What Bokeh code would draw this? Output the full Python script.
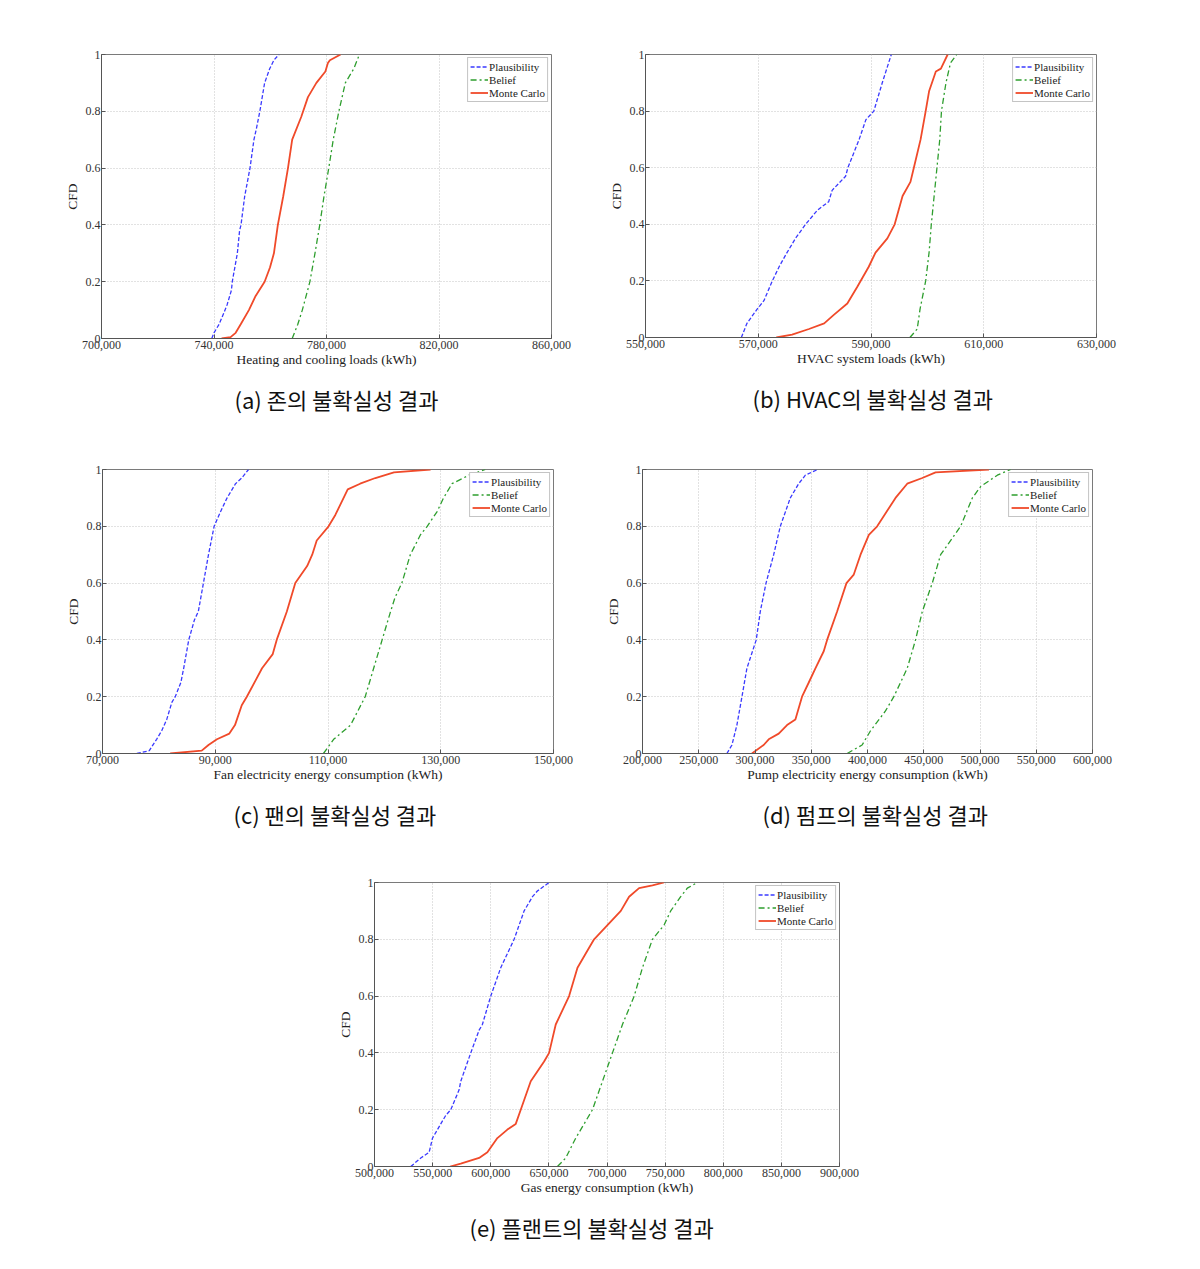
from bokeh.plotting import figure
from bokeh.layouts import column, row
from bokeh.models import Range1d, FixedTicker, NumeralTickFormatter, Title
from bokeh.embed import file_html
from bokeh.resources import INLINE

# ---------------- data ----------------
# (a) Heating and cooling loads
a_pl_x = [739200, 740000, 741800, 743500, 744700, 746200, 746500, 748300, 749100, 749600, 750900, 752800, 754200, 755100, 756300, 758000, 759800, 761300, 763100]
a_pl_y = [0, 0.02, 0.05, 0.09, 0.12, 0.17, 0.2, 0.3, 0.38, 0.4, 0.5, 0.6, 0.7, 0.74, 0.8, 0.9, 0.95, 0.98, 1]
a_be_x = [767800, 769800, 771400, 774100, 775900, 777600, 779100, 780800, 782400, 784400, 786700, 789700, 791700]
a_be_y = [0, 0.05, 0.1, 0.2, 0.3, 0.4, 0.5, 0.6, 0.7, 0.8, 0.9, 0.95, 1]
a_mc_x = [742700, 745900, 747700, 749500, 752400, 754800, 758000, 759900, 761300, 762700, 764600, 766300, 767800, 771000, 773400, 776400, 779600, 780500, 781200, 785000]
a_mc_y = [0, 0.005, 0.02, 0.05, 0.1, 0.15, 0.2, 0.25, 0.3, 0.4, 0.5, 0.6, 0.7, 0.78, 0.85, 0.9, 0.94, 0.97, 0.98, 1]

# (b) HVAC system loads
b_pl_x = [567000, 568000, 569800, 571000, 572500, 573700, 575100, 576600, 578400, 580500, 582500, 583100, 585500, 585900, 587900, 589100, 590500, 592000, 593600]
b_pl_y = [0, 0.05, 0.1, 0.13, 0.2, 0.25, 0.3, 0.35, 0.4, 0.45, 0.48, 0.52, 0.57, 0.6, 0.7, 0.77, 0.8, 0.9, 1]
b_be_x = [596900, 598200, 598700, 599700, 600300, 600700, 601200, 601700, 602200, 602500, 603300, 604100, 605200]
b_be_y = [0, 0.03, 0.1, 0.2, 0.3, 0.4, 0.5, 0.6, 0.7, 0.8, 0.9, 0.97, 1]
b_mc_x = [573200, 576000, 579000, 581700, 583400, 585800, 587600, 589600, 590800, 592900, 594200, 595600, 597000, 597600, 598800, 599700, 600300, 601500, 602400, 603600]
b_mc_y = [0, 0.01, 0.03, 0.05, 0.08, 0.12, 0.18, 0.25, 0.3, 0.35, 0.4, 0.5, 0.55, 0.6, 0.7, 0.8, 0.87, 0.94, 0.95, 1]

# (c) Fan electricity energy consumption
c_pl_x = [76100, 78300, 79600, 80500, 81400, 82300, 82900, 83900, 84400, 85300, 86300, 87000, 87900, 88800, 89800, 90900, 92100, 93600, 94700, 95900]
c_pl_y = [0, 0.01, 0.05, 0.08, 0.12, 0.18, 0.2, 0.25, 0.3, 0.4, 0.47, 0.5, 0.6, 0.7, 0.8, 0.85, 0.9, 0.95, 0.97, 1]
c_be_x = [109200, 111000, 114000, 116600, 118100, 119600, 121100, 121900, 123100, 124600, 126400, 127600, 129300, 130500, 132000, 135000, 137900]
c_be_y = [0, 0.05, 0.1, 0.2, 0.3, 0.4, 0.5, 0.55, 0.6, 0.7, 0.77, 0.8, 0.85, 0.9, 0.95, 0.98, 1]
c_mc_x = [82000, 87600, 88800, 90300, 92500, 93500, 94700, 95600, 98300, 100200, 100900, 102700, 104200, 106300, 107200, 108000, 110100, 111300, 113500, 115700, 118400, 121700, 128200]
c_mc_y = [0, 0.01, 0.03, 0.05, 0.07, 0.1, 0.17, 0.2, 0.3, 0.35, 0.4, 0.5, 0.6, 0.66, 0.7, 0.75, 0.8, 0.84, 0.93, 0.95, 0.97, 0.99, 1]

# (d) Pump electricity energy consumption
d_pl_x = [275000, 279500, 283900, 288400, 292800, 301100, 304700, 309800, 316600, 322500, 331400, 338800, 344800, 355800]
d_pl_y = [0, 0.03, 0.1, 0.2, 0.3, 0.4, 0.5, 0.6, 0.7, 0.8, 0.9, 0.95, 0.98, 1]
d_be_x = [381900, 395200, 402700, 416000, 423400, 435300, 442700, 448700, 457600, 465000, 482800, 493200, 500600, 515400, 527200]
d_be_y = [0, 0.03, 0.08, 0.15, 0.2, 0.3, 0.4, 0.5, 0.6, 0.7, 0.8, 0.9, 0.94, 0.98, 1]
d_mc_x = [297300, 307700, 312200, 321100, 328500, 335900, 341800, 347800, 353700, 361100, 364100, 373000, 381300, 387800, 393800, 401200, 408600, 424900, 435300, 448700, 460500, 508000]
d_mc_y = [0, 0.03, 0.05, 0.07, 0.1, 0.12, 0.2, 0.25, 0.3, 0.36, 0.4, 0.5, 0.6, 0.63, 0.7, 0.77, 0.8, 0.9, 0.95, 0.97, 0.99, 1]

# (e) Gas energy consumption
e_pl_x = [531200, 539800, 547000, 549900, 557000, 561300, 565600, 572800, 574200, 582800, 590000, 592800, 600000, 608600, 620100, 628700, 635900, 640100, 650200]
e_pl_y = [0, 0.03, 0.05, 0.1, 0.15, 0.18, 0.2, 0.27, 0.3, 0.4, 0.48, 0.5, 0.6, 0.7, 0.8, 0.9, 0.95, 0.97, 1]
e_be_x = [657400, 664500, 673100, 680300, 687500, 696100, 704700, 713300, 723400, 730500, 739100, 749100, 754800, 763400, 769100, 777700]
e_be_y = [0, 0.03, 0.1, 0.15, 0.2, 0.3, 0.4, 0.5, 0.6, 0.7, 0.8, 0.85, 0.9, 0.95, 0.98, 1]
e_mc_x = [565100, 574200, 590000, 597100, 605700, 614300, 621500, 625800, 634400, 645900, 650200, 655900, 667400, 674600, 684600, 688900, 700400, 711900, 719000, 727600, 739100, 749100]
e_mc_y = [0, 0.01, 0.03, 0.05, 0.1, 0.13, 0.15, 0.2, 0.3, 0.37, 0.4, 0.5, 0.6, 0.7, 0.77, 0.8, 0.85, 0.9, 0.95, 0.98, 0.99, 1]

x_labels = ["Heating and cooling loads (kWh)", "HVAC system loads (kWh)",
            "Fan electricity energy consumption (kWh)", "Pump electricity energy consumption (kWh)",
            "Gas energy consumption (kWh)"]
captions = ["(a) 존의 불확실성 결과", "(b) HVAC의 불확실성 결과", "(c) 팬의 불확실성 결과",
            "(d) 펌프의 불확실성 결과", "(e) 플랜트의 불확실성 결과"]
x_ticks = [[700000, 740000, 780000, 820000, 860000],
           [550000, 570000, 590000, 610000, 630000],
           [70000, 90000, 110000, 130000, 150000],
           [200000, 250000, 300000, 350000, 400000, 450000, 500000, 550000, 600000],
           [500000, 550000, 600000, 650000, 700000, 750000, 800000, 850000, 900000]]
y_ticks = [0, 0.2, 0.4, 0.6, 0.8, 1]
series_names = ["Plausibility", "Belief", "Monte Carlo"]

SERIF = "Liberation Serif"
FRAME_H = 284
BOTTOM = 90


def make_fig(series, xt, xlabel, caption, width, left, right, top, cap_offset):
    height = top + FRAME_H + BOTTOM
    p = figure(width=width, height=height, output_backend="svg", toolbar_location=None,
               x_range=Range1d(xt[0], xt[-1]), y_range=Range1d(0, 1),
               min_border_left=left, min_border_right=right, min_border_top=top,
               min_border_bottom=BOTTOM)
    p.background_fill_color = "white"
    p.outline_line_color = "#7a7a7a"
    p.outline_line_width = 1
    (plx, ply), (bex, bey), (mcx, mcy) = series
    p.line(plx, ply, line_color="#3a3aff", line_width=1.3, line_dash="4 2", legend_label=series_names[0])
    p.line(bex, bey, line_color="#2e9e2e", line_width=1.3, line_dash="6 3 2 3", legend_label=series_names[1])
    p.line(mcx, mcy, line_color="#f04a2a", line_width=1.8, legend_label=series_names[2])

    p.xaxis.ticker = FixedTicker(ticks=xt)
    p.xaxis.formatter = NumeralTickFormatter(format="0,0")
    p.yaxis.ticker = FixedTicker(ticks=y_ticks)
    p.yaxis.formatter = NumeralTickFormatter(format="0.[0]")
    p.xaxis.axis_label = xlabel
    p.yaxis.axis_label = "CFD"
    for ax in (p.xaxis[0], p.yaxis[0]):
        ax.major_tick_in = 4
        ax.major_tick_out = 0
        ax.minor_tick_line_color = None
        ax.axis_line_color = "#555555"
        ax.major_tick_line_color = "#555555"
        ax.major_label_text_font = SERIF
        ax.major_label_text_font_size = "12px"
        ax.major_label_text_color = "#333333"
        ax.major_label_standoff = 2
        ax.axis_label_text_font = SERIF
        ax.axis_label_text_font_size = "13.5px"
        ax.axis_label_text_font_style = "normal"
        ax.axis_label_text_color = "#222222"
        ax.axis_label_standoff = 0
    p.yaxis.major_label_standoff = 1
    p.yaxis.axis_label_standoff = 3

    p.grid.grid_line_color = "#c4c4c4"
    p.grid.grid_line_dash = "1 2"
    p.grid.grid_line_width = 1

    lg = p.legend[0]
    lg.location = "top_right"
    lg.margin = 3
    lg.padding = 2
    lg.spacing = 0
    lg.label_height = 13
    lg.glyph_height = 13
    lg.glyph_width = 18
    lg.label_standoff = 1
    lg.label_text_font = SERIF
    lg.label_text_font_size = "11px"
    lg.label_text_color = "#222222"
    lg.border_line_color = "#8a8a8a"
    lg.border_line_width = 1
    lg.background_fill_alpha = 1.0

    cap = Title(text=caption, align="left", text_font="Noto Sans CJK KR",
                text_font_size="22px", text_font_style="normal", text_color="#111111",
                standoff=22, offset=cap_offset)
    p.add_layout(cap, "below")
    return p


fa = make_fig([(a_pl_x, a_pl_y), (a_be_x, a_be_y), (a_mc_x, a_mc_y)], x_ticks[0], x_labels[0], captions[0],
              600, 101, 49, 54, 133)
fb = make_fig([(b_pl_x, b_pl_y), (b_be_x, b_be_y), (b_mc_x, b_mc_y)], x_ticks[1], x_labels[1], captions[1],
              600, 45, 104, 53, 107)
fc = make_fig([(c_pl_x, c_pl_y), (c_be_x, c_be_y), (c_mc_x, c_mc_y)], x_ticks[2], x_labels[2], captions[2],
              600, 102, 47, 41, 131)
fd = make_fig([(d_pl_x, d_pl_y), (d_be_x, d_be_y), (d_mc_x, d_mc_y)], x_ticks[3], x_labels[3], captions[3],
              600, 42, 108, 41, 120)
fe = make_fig([(e_pl_x, e_pl_y), (e_be_x, e_be_y), (e_mc_x, e_mc_y)], x_ticks[4], x_labels[4], captions[4],
              900, 374, 61, 39, 95)

layout = column(row(fa, fb), row(fc, fd), fe)
open("out.html", "w").write(file_html(layout, INLINE))
